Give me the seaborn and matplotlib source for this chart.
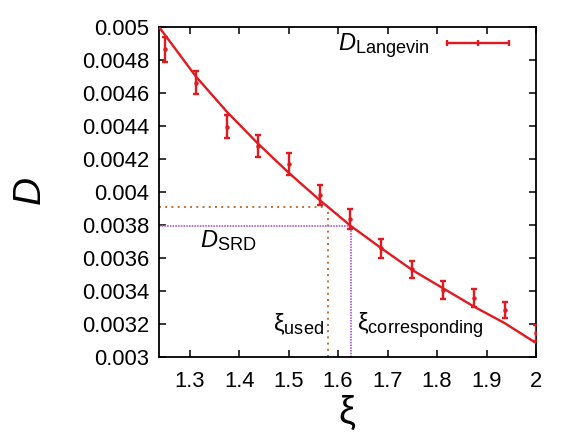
import numpy as np
import seaborn as sns
import pandas as pd
import matplotlib
matplotlib.use('Agg')
import matplotlib._mathtext as mathtext_internal
from matplotlib import pyplot as plt
from matplotlib.ticker import FuncFormatter, MultipleLocator

# measured diffusion coefficients (Langevin) with error bars
xi_points = [1.25, 1.3125, 1.375, 1.4375, 1.5, 1.5625, 1.625,
             1.6875, 1.75, 1.8125, 1.875, 1.9375, 2.0]
d_langevin = [0.004865, 0.004662, 0.004396, 0.004281, 0.004170, 0.003982, 0.003834,
              0.003659, 0.003531, 0.003406, 0.003356, 0.003285, 0.003144]
d_err = [0.000075, 0.000070, 0.000068, 0.000066, 0.000066, 0.000060, 0.000060,
         0.000056, 0.000050, 0.000053, 0.000055, 0.000050, 0.000048]

# theory curve
xi_curve = [1.238, 1.25, 1.3125, 1.375, 1.4375, 1.5, 1.5625, 1.625,
            1.6875, 1.75, 1.8125, 1.875, 1.9375, 2.0]
d_curve = [0.005, 0.004952, 0.004700, 0.004487, 0.004295, 0.004117, 0.003952, 0.003796,
           0.003659, 0.003527, 0.003416, 0.003305, 0.003204, 0.003085]

# reference values
xi_used = 1.58
d_used = 0.003911
xi_corr = 1.627
d_srd = 0.003796

sns.set_style('ticks')
plt.rcParams['font.family'] = ['Liberation Sans', 'DejaVu Sans']
plt.rcParams['mathtext.fontset'] = 'custom'
plt.rcParams['mathtext.rm'] = 'Liberation Sans'
plt.rcParams['mathtext.it'] = 'Liberation Sans:italic'
for key in ['text.color', 'axes.labelcolor', 'xtick.color', 'ytick.color', 'axes.edgecolor']:
    plt.rcParams[key] = 'black'
# gnuplot-like subscripts are larger than the mathtext default
mathtext_internal.SHRINK_FACTOR = 0.77

red = '#e3191f'
brown = '#c07030'
purple = '#b06cd8'

fig = plt.figure(figsize=(5.81, 4.34), dpi=100)
ax = fig.add_axes([0.2737, 0.1774, 0.6488, 0.7604])

curve = pd.DataFrame({'xi': xi_curve, 'D': d_curve})
sns.lineplot(data=curve, x='xi', y='D', ax=ax, color=red, lw=1.7, zorder=3)

ax.errorbar(xi_points, d_langevin, yerr=d_err, fmt='o', ms=2.2, color=red,
            ecolor=red, elinewidth=1.7, capsize=2.3, capthick=1.7, zorder=4)

# dotted guide lines
ax.plot([1.238, xi_used], [d_used, d_used], color=brown, lw=1.4, ls=(0, (1, 2.2)))
ax.plot([xi_used, xi_used], [0.003, d_used], color=brown, lw=1.4, ls=(0, (1, 2.2)))
ax.plot([1.238, xi_corr], [d_srd, d_srd], color=purple, lw=1.4, ls=(0, (0.8, 0.6)))
ax.plot([xi_corr, xi_corr], [0.003, d_srd], color=purple, lw=1.4, ls=(0, (0.8, 0.6)))

ax.text(1.3205, 0.003668, r'$D_{\mathrm{SRD}}$', fontsize=17, va='baseline', ha='left')
ax.text(1.5717, 0.003160, r'$\mathrm{\xi}_{\mathrm{used}}$', fontsize=17, va='baseline', ha='right')
ax.text(1.6375, 0.003160, r'$\mathrm{\xi}_{\mathrm{corresponding}}$', fontsize=17,
        va='baseline', ha='left')

# legend with gnuplot-like sample
handle = plt.Line2D([], [], color=red, lw=1.7, marker='|', ms=4, mew=1.7)
ax.legend([handle], [r'$D_{\mathrm{Langevin}}$'], loc='upper right', frameon=False,
          markerfirst=False, numpoints=3, fontsize=17, handlelength=3.2,
          handletextpad=0.45, bbox_to_anchor=(1.003, 1.048))

ax.set_xlim(1.238, 2.0)
ax.set_ylim(0.003, 0.005)
ax.xaxis.set_major_locator(MultipleLocator(0.1))
ax.yaxis.set_major_locator(MultipleLocator(0.0002))
ax.xaxis.set_major_formatter(FuncFormatter(lambda v, p: '%g' % round(v, 4)))
ax.yaxis.set_major_formatter(FuncFormatter(lambda v, p: '%g' % round(v, 6)))
ax.tick_params(direction='in', length=5, width=1.1, labelsize=15.8, top=True, right=True)
ax.tick_params(axis='x', pad=10)
ax.tick_params(axis='y', pad=7)
for s in ax.spines.values():
    s.set_linewidth(1.3)

ax.set_xlabel(r'$\mathrm{\xi}$', fontsize=27, labelpad=1)
ax.set_ylabel(r'$D$', fontsize=28, labelpad=24)

fig.savefig('out.png', dpi=100)
